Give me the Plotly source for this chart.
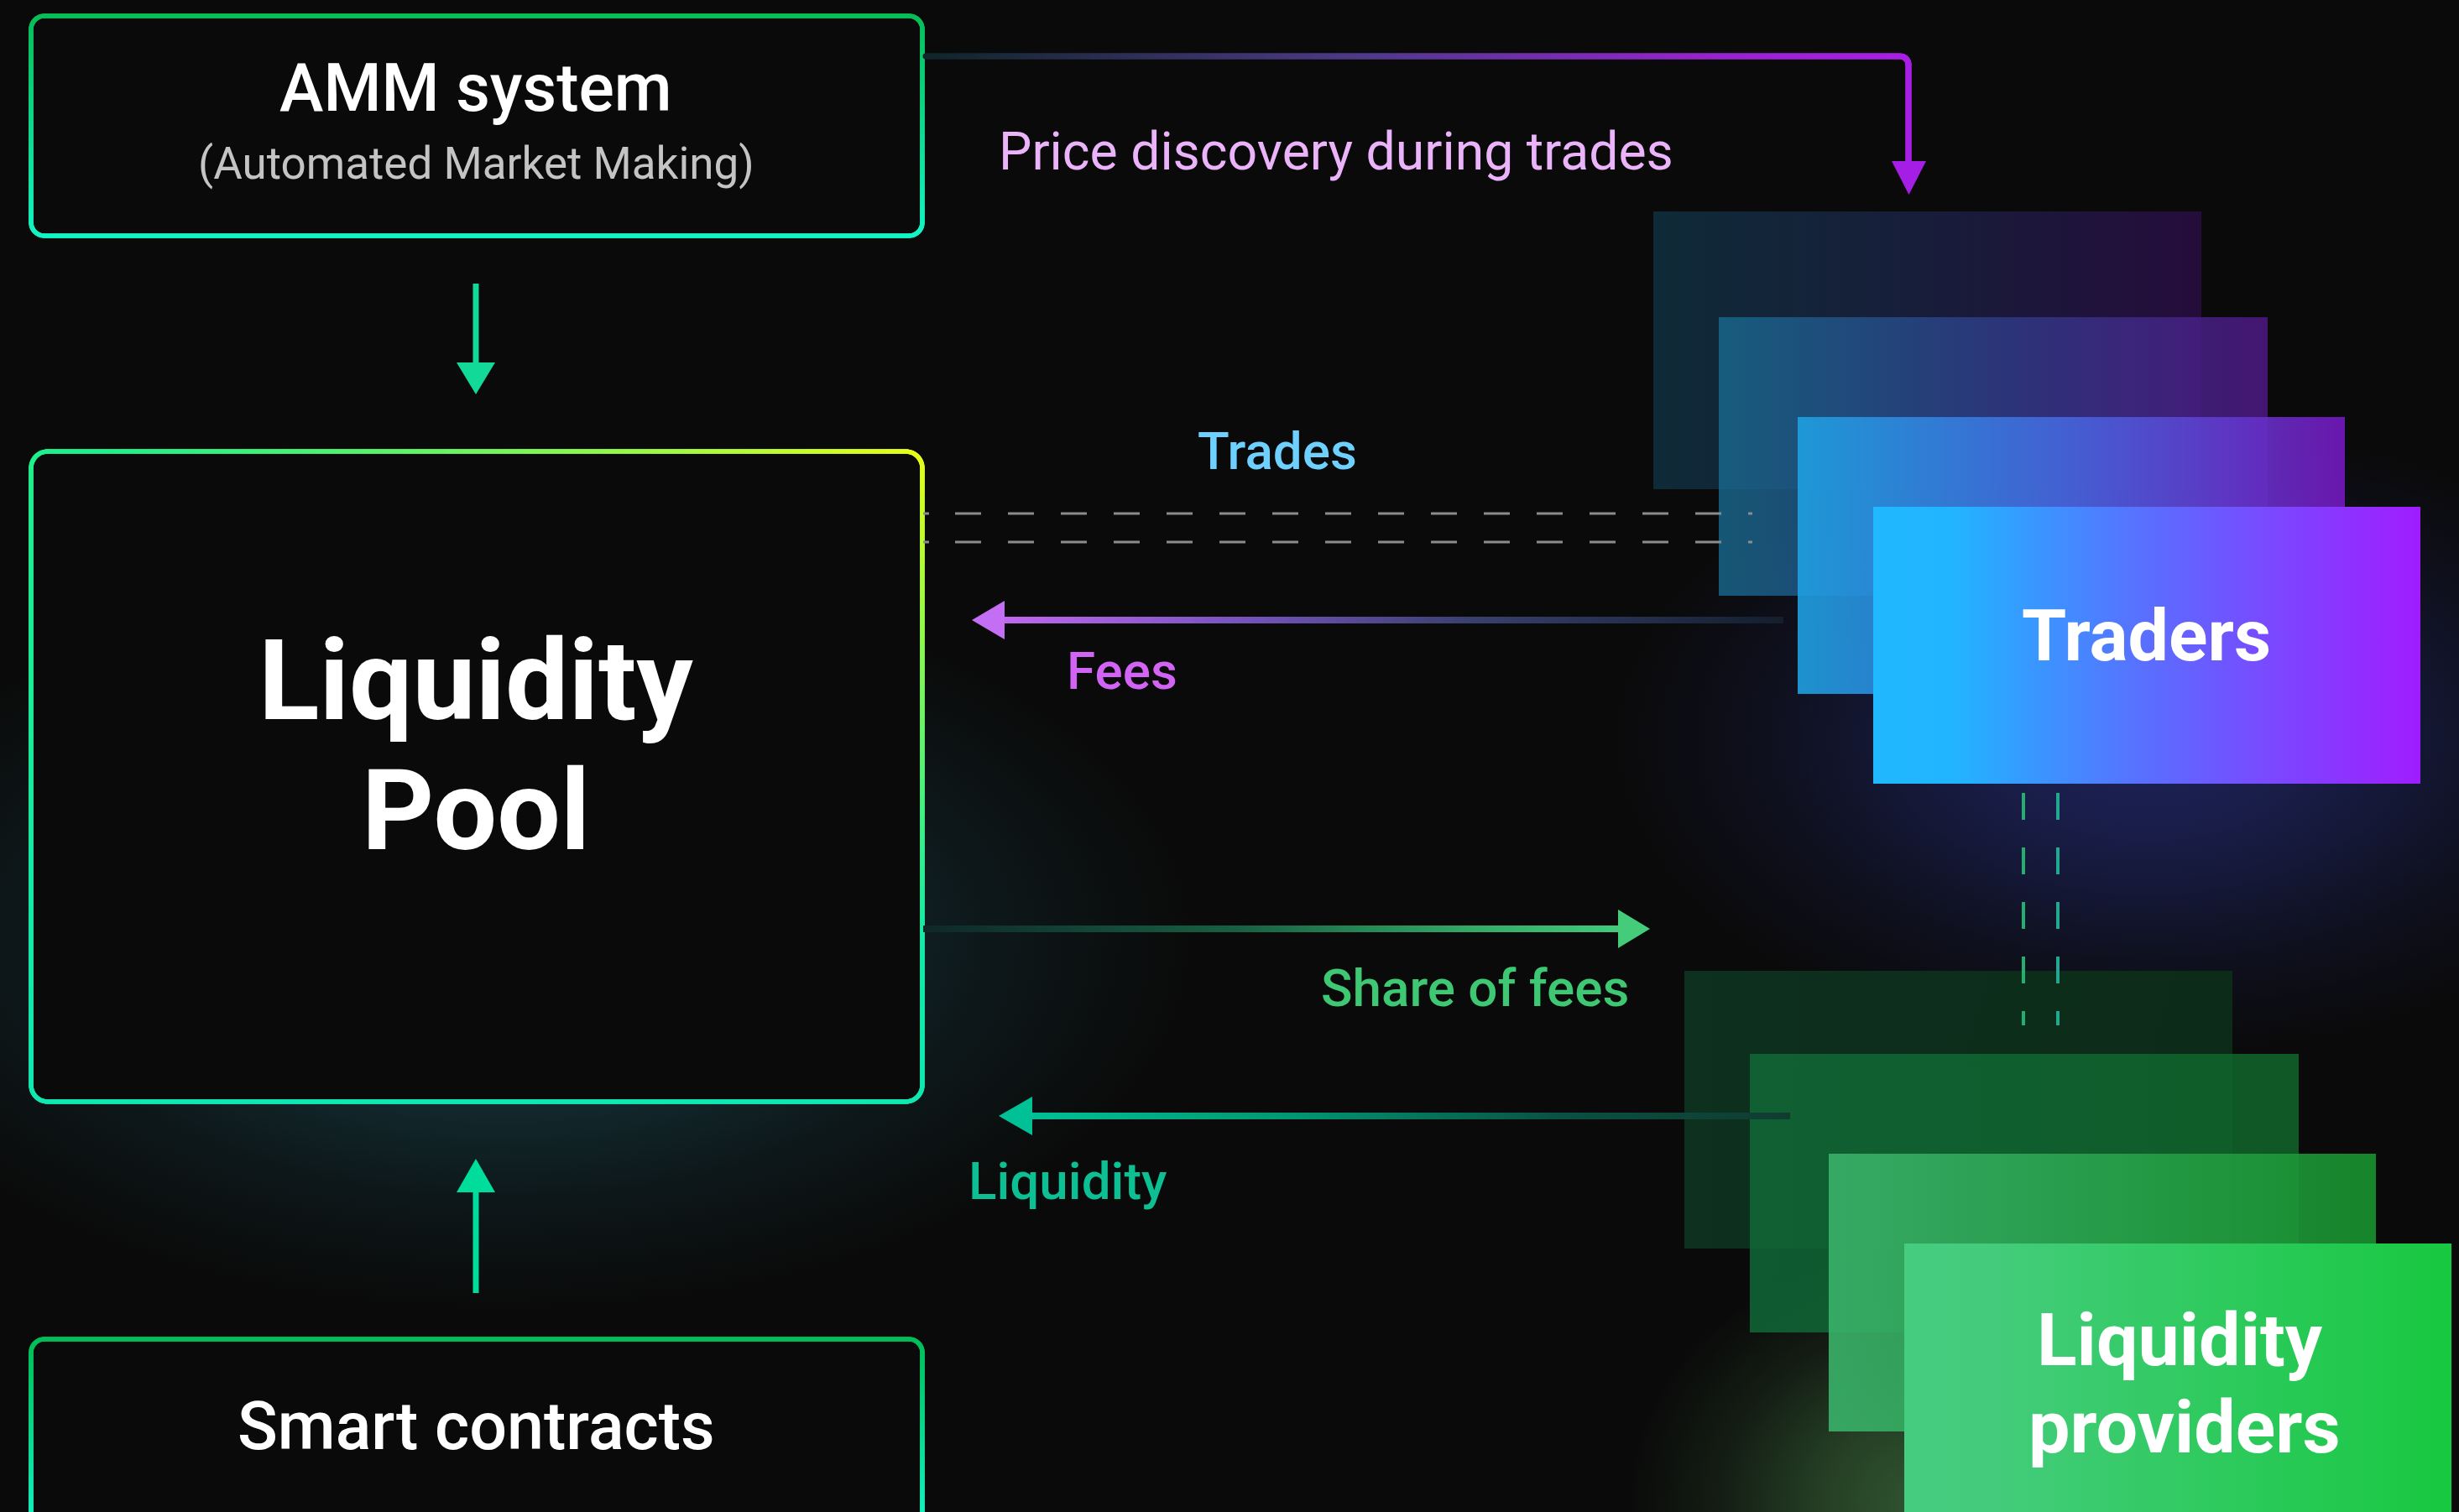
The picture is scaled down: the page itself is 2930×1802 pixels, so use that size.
import numpy as np
import plotly.graph_objects as go

# ---------------- diagram content ----------------
box_titles = ["AMM system", "Liquidity", "Pool", "Smart contracts"]
box_subtitle = "(Automated Market Making)"
flow_labels = ["Price discovery during trades", "Trades", "Fees", "Share of fees", "Liquidity"]
actor_labels = ["Traders", "Liquidity", "providers"]

# ---------------- canvas ----------------
W, H = 2930, 1802
BG = "#0a0a0a"

# geometry (pixel layout of the diagram)
AMM = (37, 19, 1099, 281)
POOL = (37, 538, 1099, 1313)
SC = (37, 1596, 1099, 1850)
TR_RECTS = [(1970, 252, 2623, 583), (2048, 378, 2702, 710),
            (2142, 497, 2794, 827), (2232, 604, 2884, 934)]
LP_RECTS = [(2007, 1157, 2660, 1488), (2085, 1256, 2739, 1588),
            (2179, 1375, 2831, 1706), (2269, 1482, 2921, 1860)]

TR_COLORS = [
    [[0, "rgba(15,44,58,0.95)"], [0.5, "rgba(24,30,60,0.95)"], [1, "rgba(38,12,62,0.95)"]],
    [[0, "rgba(24,104,140,0.82)"], [0.5, "rgba(46,60,134,0.82)"], [1, "rgba(80,24,136,0.82)"]],
    [[0, "rgba(30,160,224,0.9)"], [0.5, "rgba(70,100,220,0.9)"], [1, "rgba(116,24,190,0.9)"]],
    [[0, "#20b8ff"], [0.15, "#22b4ff"], [0.5, "#5a6eff"], [1, "#a01cff"]],
]
LP_COLORS = [
    [[0, "rgba(14,50,32,0.95)"], [1, "rgba(12,44,24,0.95)"]],
    [[0, "rgba(16,104,56,0.85)"], [1, "rgba(16,102,42,0.85)"]],
    [[0, "rgba(58,178,106,0.9)"], [1, "rgba(24,146,46,0.9)"]],
    [[0, "#46cc80"], [0.15, "#44cc7c"], [1, "#18c840"]],
]


def lerp(stops, t):
    t = min(max(t, 0.0), 1.0)
    for (t0, c0), (t1, c1) in zip(stops[:-1], stops[1:]):
        if t <= t1:
            f = 0 if t1 == t0 else (t - t0) / (t1 - t0)
            return tuple(a + (b - a) * f for a, b in zip(c0, c1))
    return stops[-1][1]


def rgb(c):
    return "rgb(%d,%d,%d)" % tuple(int(round(v)) for v in c)


def rrect_points(x0, y0, x1, y1, r, step=1.0):
    pts = []

    def seg(xa, ya, xb, yb):
        n = max(2, int(np.hypot(xb - xa, yb - ya) / step))
        t = np.linspace(0, 1, n, endpoint=False)
        pts.extend(zip(xa + (xb - xa) * t, ya + (yb - ya) * t))

    def arc(cx, cy, a0, a1):
        n = max(4, int(abs(a1 - a0) * r / step))
        a = np.linspace(a0, a1, n, endpoint=False)
        pts.extend(zip(cx + r * np.cos(a), cy + r * np.sin(a)))

    seg(x0 + r, y0, x1 - r, y0)
    arc(x1 - r, y0 + r, -np.pi / 2, 0)
    seg(x1, y0 + r, x1, y1 - r)
    arc(x1 - r, y1 - r, 0, np.pi / 2)
    seg(x1 - r, y1, x0 + r, y1)
    arc(x0 + r, y1 - r, np.pi / 2, np.pi)
    seg(x0, y1 - r, x0, y0 + r)
    arc(x0 + r, y0 + r, np.pi, 1.5 * np.pi)
    pts.append(pts[0])
    xs, ys = zip(*pts)
    return np.array(xs), np.array(ys)


traces = []


def add_poly(xs, ys, color=None, gradient=None):
    kw = dict(x=list(xs), y=list(ys), mode="lines", fill="toself",
              line=dict(width=0, color="rgba(0,0,0,0)"),
              hoverinfo="skip", showlegend=False)
    if gradient is not None:
        kw["fillgradient"] = gradient
    else:
        kw["fillcolor"] = color
    traces.append(go.Scatter(**kw))


def add_rect(x0, y0, x1, y1, color=None, colorscale=None):
    g = None if colorscale is None else dict(type="horizontal", colorscale=colorscale)
    add_poly([x0, x1, x1, x0, x0], [y0, y0, y1, y1, y0], color, g)


def add_glow(cx, cy, rx, ry, rgbc, alpha):
    a = np.linspace(0, 2 * np.pi, 160)
    r, g, b = rgbc
    cs = [[0, "rgba(%d,%d,%d,%.3f)" % (r, g, b, alpha)],
          [0.35, "rgba(%d,%d,%d,%.3f)" % (r, g, b, alpha * 0.7)],
          [0.7, "rgba(%d,%d,%d,%.3f)" % (r, g, b, alpha * 0.25)],
          [1, "rgba(%d,%d,%d,0)" % (r, g, b)]]
    add_poly(cx + rx * np.cos(a), cy + ry * np.sin(a), gradient=dict(type="radial", colorscale=cs))


def add_border(rect, r, colfn, size=5.5):
    xs, ys = rrect_points(*rect, r)
    cols = [rgb(colfn(x, y)) for x, y in zip(xs, ys)]
    traces.append(go.Scatter(x=xs, y=ys, mode="markers",
                             marker=dict(size=size, color=cols, line=dict(width=0)),
                             hoverinfo="skip", showlegend=False))


def add_box(rect, r, colfn):
    xs, ys = rrect_points(*rect, r, step=6)
    add_poly(xs, ys, BG)
    add_border(rect, r, colfn)


# ---------------- glows ----------------
add_glow(600, 1120, 820, 440, (24, 64, 72), 1.0)
add_glow(2560, 880, 640, 380, (36, 44, 120), 0.75)
add_glow(2300, 1790, 360, 300, (56, 100, 56), 0.85)

# ---------------- boxes ----------------
amm_col = lambda x, y: lerp([(0, (8, 190, 88)), (1, (20, 244, 196))], (y - AMM[1]) / (AMM[3] - AMM[1]))
sc_col = lambda x, y: lerp([(0, (0, 190, 86)), (1, (18, 240, 190))], (y - SC[1]) / (H - SC[1]))


def pool_col(x, y):
    base = lerp([(0, (30, 240, 140)), (1, (16, 232, 178))], (y - POOL[1]) / (POOL[3] - POOL[1]))
    d = np.hypot((POOL[2] - x) / 1000.0, (y - POOL[1]) / 600.0)
    w = max(0.0, 1.0 - d) ** 1.2
    yel = (232, 255, 24)
    return tuple(b * (1 - w) + c * w for b, c in zip(base, yel))


add_box(AMM, 16, amm_col)
add_box(POOL, 20, pool_col)
add_box(SC, 16, sc_col)

# ---------------- actor stacks ----------------
for rect, cs in zip(TR_RECTS, TR_COLORS):
    add_rect(*rect, colorscale=cs)
for rect, cs in zip(LP_RECTS, LP_COLORS):
    add_rect(*rect, colorscale=cs)

# ---------------- arrows ----------------
# vertical arrows on the left
add_rect(563.5, 338, 570.5, 436, "#12d898")
add_poly([544, 590, 567, 544], [432, 432, 470, 432], "#12d898")
add_rect(563.5, 1417, 570.5, 1541, "#00dc9c")
add_poly([544, 590, 567, 544], [1421, 1421, 1381, 1421], "#00dc9c")

# price discovery path (horizontal then down)
pxs, pys = [], []
xs_h = np.arange(1103, 2264, 1.0)
pxs += list(xs_h); pys += [67] * len(xs_h)
ang = np.linspace(-np.pi / 2, 0, 20)
pxs += list(2264 + 10 * np.cos(ang)); pys += list(77 + 10 * np.sin(ang))
ys_v = np.arange(77, 196, 1.0)
pxs += [2274] * len(ys_v); pys += list(ys_v)
pstops = [(0, (16, 38, 42)), (0.45, (80, 58, 138)), (0.8, (150, 36, 205)), (1, (168, 32, 228))]
pcols = [rgb(lerp(pstops, (x - 1103) / (2274 - 1103))) for x in pxs]
traces.append(go.Scatter(x=pxs, y=pys, mode="markers",
                         marker=dict(size=7, color=pcols, line=dict(width=0)),
                         hoverinfo="skip", showlegend=False))
add_poly([2254, 2295, 2274.5, 2254], [192, 192, 232, 192], "#a41ee6")

# fees (right to left)
add_rect(1195, 735, 2125, 743, colorscale=[[0, "rgb(192,104,240)"], [0.3, "rgb(120,84,190)"],
                                           [0.6, "rgb(56,64,110)"], [1, "rgb(20,30,46)"]])
add_poly([1197, 1197, 1158, 1197], [716, 762, 739, 716], "#c46ef5")

# share of fees (left to right)
add_rect(1100, 1103, 1930, 1111, colorscale=[[0, "rgb(14,40,40)"], [0.45, "rgb(22,96,66)"],
                                             [0.8, "rgb(52,172,104)"], [1, "rgb(66,202,122)"]])
add_poly([1928, 1928, 1966, 1928], [1084, 1130, 1107, 1084], "#44cc7a")

# liquidity (right to left)
add_rect(1228, 1326, 2133, 1334, colorscale=[[0, "rgb(0,192,150)"], [0.35, "rgb(0,150,112)"],
                                             [0.7, "rgb(10,80,66)"], [1, "rgb(16,60,48)"]])
add_poly([1230, 1230, 1190, 1230], [1307, 1353, 1330, 1307], "#00c096")

# trades dashed lines (pattern phased so a short stub touches the pool border)
trade_dash = ",".join(["7px", "31px"] + ["31px", "32px"] * 15 + ["5px", "40px"])
for yy in (612, 646):
    traces.append(go.Scatter(x=[1100, 2088], y=[yy, yy], mode="lines",
                             line=dict(color="#8c8c8c", width=3, dash=trade_dash),
                             hoverinfo="skip", showlegend=False))
# traders <-> liquidity providers dashed link
for xx, cc in ((2411, "#22b070"), (2452, "#22a890")):
    traces.append(go.Scatter(x=[xx, xx], y=[945, 1222], mode="lines",
                             line=dict(color=cc, width=4, dash="32px,33px"),
                             hoverinfo="skip", showlegend=False))

fig = go.Figure(traces)

# ---------------- text ----------------
def label(text, x, y, size, color, weight=400):
    fig.add_annotation(x=x, y=y, text=text, showarrow=False, xanchor="center", yanchor="middle",
                       font=dict(family="Roboto", size=size, color=color, weight=weight))


label(box_titles[0], 567, 105, 79, "#ffffff", 500)
label(box_subtitle, 567, 195, 53, "#c4c4c4", 400)
label(box_titles[1], 567, 811, 134, "#ffffff", 700)
label(box_titles[2], 567, 966, 134, "#ffffff", 700)
label(box_titles[3], 567, 1700, 79, "#ffffff", 500)

label(flow_labels[0], 1592, 180, 62.5, "#ebb4fa", 400)
label(flow_labels[1], 1522, 537, 62, "#6ed0ff", 500)
label(flow_labels[2], 1337, 799, 62, "#d264f5", 500)
label(flow_labels[3], 1757, 1177, 62, "#3ec874", 500)
label(flow_labels[4], 1272, 1407, 62, "#0cc094", 500)

label(actor_labels[0], 2557, 757, 86, "#ffffff", 700)
label(actor_labels[1], 2597, 1596, 88, "#ffffff", 700)
label(actor_labels[2], 2603, 1700, 88, "#ffffff", 700)

fig.update_layout(
    width=W, height=H, margin=dict(l=0, r=0, t=0, b=0),
    paper_bgcolor=BG, plot_bgcolor=BG, showlegend=False,
    xaxis=dict(range=[0, W], visible=False, fixedrange=True),
    yaxis=dict(range=[H, 0], visible=False, fixedrange=True),
)

fig.write_html("out.html", config={"displayModeBar": False},
               post_script="document.body.style.margin='0';document.body.style.overflow='hidden';")
